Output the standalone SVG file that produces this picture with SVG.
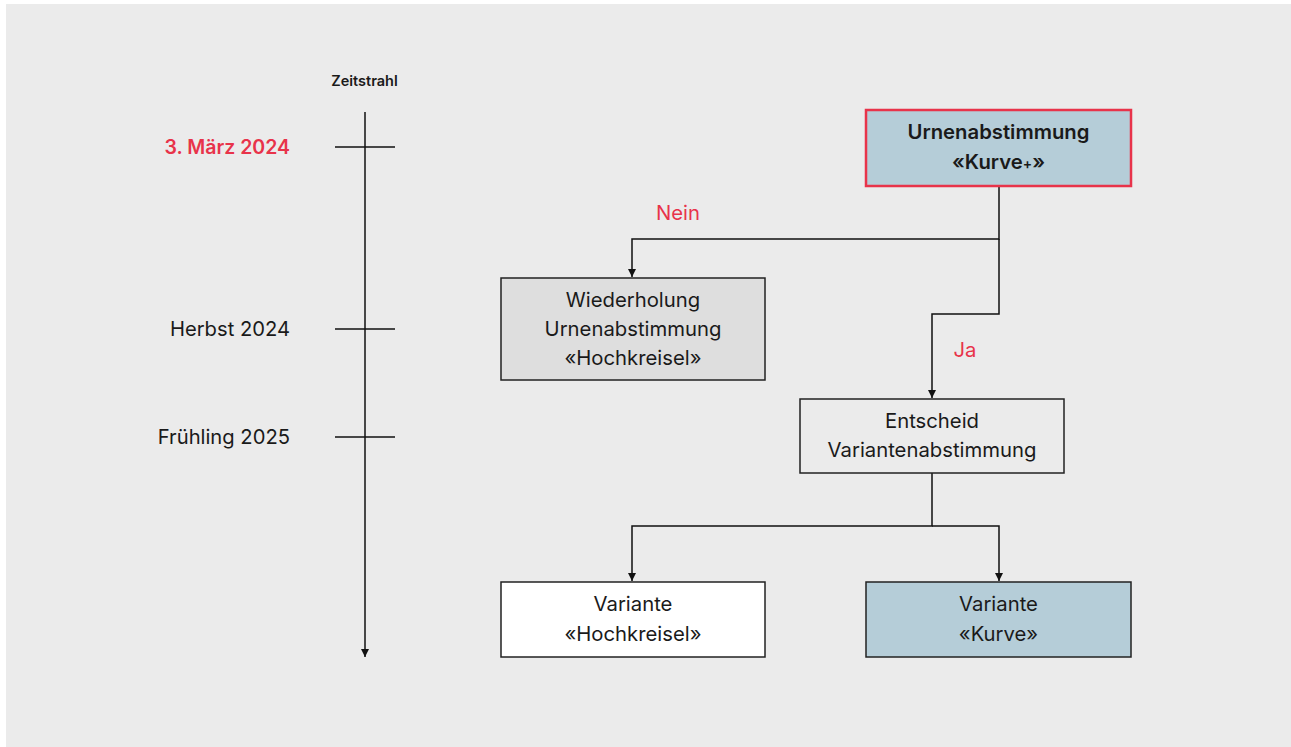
<svg xmlns="http://www.w3.org/2000/svg" width="1291" height="747" viewBox="0 0 1291 747">
<defs>
<marker id="ah" viewBox="0 0 10 10" refX="10" refY="5" markerWidth="8" markerHeight="8" markerUnits="userSpaceOnUse" orient="auto">
<path d="M0,0 L10,5 L0,10 z" fill="#111"/>
</marker>
<style>
text{font-family:Inter,"Liberation Sans",Arial,sans-serif;fill:#1a1a1a}
.n{font-size:20.3px;text-anchor:middle}
.b{font-weight:600}
.red{fill:#e8334a}
.lbl{font-size:20.2px;text-anchor:end}
.box{stroke:#222;stroke-width:1.5}
.ln{stroke:#111;stroke-width:1.5;fill:none}
</style>
</defs>
<rect x="0" y="0" width="1291" height="747" fill="#ffffff"/>
<rect x="6" y="4" width="1285" height="743" fill="#ebebeb"/>

<g id="timeline">
<text x="364.5" y="86" font-size="14.5" class="b" text-anchor="middle">Zeitstrahl</text>
<line class="ln" x1="365" y1="112" x2="365" y2="657" marker-end="url(#ah)"/>
<line class="ln" x1="335" y1="147" x2="395" y2="147"/>
<line class="ln" x1="335" y1="329" x2="395" y2="329"/>
<line class="ln" x1="335" y1="437" x2="395" y2="437"/>
<text class="b red" x="290" y="154" font-size="19.5" text-anchor="end">3. März 2024</text>
<text class="lbl" x="290" y="336">Herbst 2024</text>
<text class="lbl" x="290" y="444">Frühling 2025</text>
</g>

<g id="connectors">
<path class="ln" d="M999,186 V239 H632 V277" marker-end="url(#ah)"/>
<path class="ln" d="M999,239 V314 H932 V398" marker-end="url(#ah)"/>
<path class="ln" d="M932,473 V526 H632 V581" marker-end="url(#ah)"/>
<path class="ln" d="M932,526 H999 V581" marker-end="url(#ah)"/>
<text class="n red" x="678" y="220" font-size="19">Nein</text>
<text class="n red" x="965" y="357" font-size="19">Ja</text>
</g>

<g id="urne">
<rect x="866" y="110" width="265" height="76" fill="#b5cdd8" stroke="#e8334a" stroke-width="2.5"/>
<text class="n b" x="998.5" y="139">Urnenabstimmung</text>
<text class="n b" x="998.5" y="169">«Kurve<tspan font-size="14">+</tspan>»</text>
</g>

<g id="wiederholung">
<rect class="box" x="501" y="278" width="264" height="102" fill="#dedede"/>
<text class="n" x="633" y="307">Wiederholung</text>
<text class="n" x="633" y="336">Urnenabstimmung</text>
<text class="n" x="633" y="365">«Hochkreisel»</text>
</g>

<g id="entscheid">
<rect class="box" x="800" y="399" width="264" height="74" fill="none"/>
<text class="n" x="932" y="428">Entscheid</text>
<text class="n" x="932" y="457">Variantenabstimmung</text>
</g>

<g id="hochkreisel">
<rect class="box" x="501" y="582" width="264" height="75" fill="#ffffff"/>
<text class="n" x="633" y="611">Variante</text>
<text class="n" x="633" y="641">«Hochkreisel»</text>
</g>

<g id="kurve">
<rect class="box" x="866" y="582" width="265" height="75" fill="#b5cdd8"/>
<text class="n" x="998.5" y="611">Variante</text>
<text class="n" x="998.5" y="641">«Kurve»</text>
</g>
</svg>
